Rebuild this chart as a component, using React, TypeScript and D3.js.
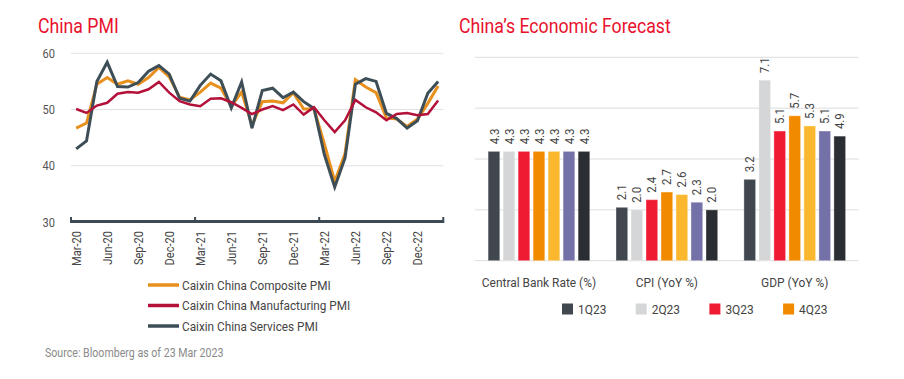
import React from "react";
import * as d3 from "d3";

const FONT = "Roboto, 'Liberation Sans', sans-serif";
const SX = 0.885; // condensed look

// ---------- Left chart data ----------
const months = [
  "Mar-20","Apr-20","May-20","Jun-20","Jul-20","Aug-20","Sep-20","Oct-20","Nov-20","Dec-20",
  "Jan-21","Feb-21","Mar-21","Apr-21","May-21","Jun-21","Jul-21","Aug-21","Sep-21","Oct-21","Nov-21","Dec-21",
  "Jan-22","Feb-22","Mar-22","Apr-22","May-22","Jun-22","Jul-22","Aug-22","Sep-22","Oct-22","Nov-22","Dec-22",
  "Jan-23","Feb-23",
];
const monthTickLabels = ["Mar-20","Jun-20","Sep-20","Dec-20","Mar-21","Jun-21","Sep-21","Dec-21","Mar-22","Jun-22","Sep-22","Dec-22"];
const compositePMI = [46.7,47.6,54.5,55.7,54.5,55.1,54.5,55.7,57.5,55.8,52.2,51.7,53.1,54.7,53.8,50.6,53.1,47.2,51.4,51.5,51.2,53.0,50.1,50.1,43.9,37.2,42.2,55.3,54.0,53.0,48.5,48.3,47.0,48.3,51.1,54.2];
const manufacturingPMI = [50.1,49.4,50.7,51.2,52.8,53.1,53.0,53.6,54.9,53.0,51.5,50.9,50.6,51.9,52.0,51.3,50.3,49.2,50.0,50.6,49.9,50.9,49.1,50.4,48.1,46.0,48.1,51.7,50.4,49.5,48.1,49.2,49.4,49.0,49.2,51.6];
const servicesPMI = [43.0,44.4,55.0,58.4,54.1,54.0,54.8,56.8,57.8,56.3,52.0,51.5,54.3,56.3,55.1,50.3,54.9,46.7,53.4,53.8,52.1,53.1,51.4,50.2,42.0,36.2,41.4,54.5,55.5,55.0,49.3,48.4,46.7,48.0,52.9,55.0];
const pmiTicks = [30, 40, 50, 60];
const lineSeries = [
  { name: "Caixin China Composite PMI", values: compositePMI, color: "#e8901e", width: 3 },
  { name: "Caixin China Services PMI", values: servicesPMI, color: "#3e4e57", width: 3 },
  { name: "Caixin China Manufacturing PMI", values: manufacturingPMI, color: "#b4113a", width: 2.5 },
];
const legendOrder = [0, 2, 1];

// ---------- Right chart data ----------
const categories = ["Central Bank Rate (%)", "CPI (YoY %)", "GDP (YoY %)"];
const periods = ["1Q23", "2Q23", "3Q23", "4Q23", "2023", "2024", "2025"];
const periodColors = ["#41474e", "#d4d6d8", "#ee1b33", "#f28a00", "#fbb82f", "#7471a8", "#2a2d31"];
const centralBankRate = [4.3, 4.3, 4.3, 4.3, 4.3, 4.3, 4.3];
const cpiYoY = [2.1, 2.0, 2.4, 2.7, 2.6, 2.3, 2.0];
const gdpYoY = [3.2, 7.1, 5.1, 5.7, 5.3, 5.1, 4.9];
const forecastValues = [centralBankRate, cpiYoY, gdpYoY];
const barGridTicks = [0, 2, 4, 6, 8];
const barLegendCount = 4;

type TxtProps = {
  x: number;
  y: number;
  rotate?: number;
  anchor?: "start" | "middle" | "end";
  dy?: string;
  size: number;
  fill: string;
  children: React.ReactNode;
};
function Txt({ x, y, rotate = 0, anchor = "start", dy, size, fill, children }: TxtProps) {
  return (
    <g transform={`translate(${x},${y}) rotate(${rotate}) scale(${SX},1)`}>
      <text x={0} y={0} dy={dy} textAnchor={anchor} fontSize={size} fill={fill}>
        {children}
      </text>
    </g>
  );
}

export default function App() {
  const xL = d3.scaleBand<string>().domain(months).range([71, 443.3]);
  const yL = d3.scaleLinear().domain([30, 60]).range([222, 53.3]);
  const line = d3
    .line<number>()
    .x((_, i) => (xL(months[i]) as number) + xL.bandwidth() / 2)
    .y((v) => yL(v));
  const yearTicks = [0, 12, 24].map((i) => xL(months[i]) as number).concat([443.3]);

  const x0 = d3.scaleBand<string>().domain(categories).range([475, 858.7]);
  const groupW = 101.7;
  const x1 = d3.scaleBand<string>().domain(periods).range([0, groupW]).paddingInner(0.22);
  const yR = d3.scaleLinear().domain([0, 8]).range([260.7, 57.3]);

  return (
    <svg width={904} height={379} style={{ position: "absolute", left: 0, top: 0, background: "#fff" }} fontFamily={FONT}>
      <Txt x={38} y={33} size={20} fill="#e8112d">China PMI</Txt>
      <Txt x={459} y={33} size={20} fill="#e8112d">China’s Economic Forecast</Txt>

      {pmiTicks.map((t) => (
        <g key={t}>
          {t > 30 && <line x1={71} x2={443.3} y1={yL(t)} y2={yL(t)} stroke="#e2e2e2" strokeWidth={1} />}
          <Txt x={55} y={yL(t) + 4.5} anchor="end" size={12.5} fill="#555">{t}</Txt>
        </g>
      ))}
      {lineSeries.map((s) => (
        <path key={s.name} d={line(s.values) || ""} fill="none" stroke={s.color} strokeWidth={s.width} strokeLinejoin="miter" />
      ))}
      <line x1={71} x2={443.3} y1={221.5} y2={221.5} stroke="#3e4a53" strokeWidth={3} />
      {yearTicks.map((x, i) => (
        <line key={i} x1={x} x2={x} y1={217} y2={223} stroke="#3e4a53" strokeWidth={2} />
      ))}
      {monthTickLabels.map((m) => {
        const x = (xL(m) as number) + xL.bandwidth() / 2;
        return (
          <Txt key={m} x={x} y={231} rotate={-90} anchor="end" dy="0.35em" size={12.5} fill="#444">
            {m}
          </Txt>
        );
      })}
      {legendOrder.map((idx, i) => {
        const s = lineSeries[idx];
        const y = 285 + i * 20.5;
        return (
          <g key={s.name}>
            <line x1={148} x2={179} y1={y} y2={y} stroke={s.color} strokeWidth={3.5} />
            <Txt x={182} y={y + 4.8} size={13.3} fill="#444">{s.name}</Txt>
          </g>
        );
      })}
      <Txt x={45} y={357} size={12} fill="#8a8a8a">Source: Bloomberg as of 23 Mar 2023</Txt>

      {barGridTicks.map((t) => (
        <line key={t} x1={475} x2={858.7} y1={yR(t)} y2={yR(t)} stroke="#dcdcdc" strokeWidth={1} />
      ))}
      {categories.map((c, ci) => {
        const gx = (x0(c) as number) + (x0.bandwidth() - groupW) / 2;
        return (
          <g key={c}>
            {periods.map((p, pi) => {
              const v = forecastValues[ci][pi];
              const bx = gx + (x1(p) as number);
              const by = yR(v);
              const cx = bx + x1.bandwidth() / 2;
              return (
                <g key={p}>
                  <rect x={bx} y={by} width={x1.bandwidth()} height={yR(0) - by} fill={periodColors[pi]} stroke="#fff" strokeOpacity={0.35} strokeWidth={1} />
                  <Txt x={cx} y={by - 7} rotate={-90} dy="0.35em" size={13} fill="#444">
                    {v.toFixed(1)}
                  </Txt>
                </g>
              );
            })}
            <Txt x={(x0(c) as number) + x0.bandwidth() / 2} y={287} anchor="middle" size={13.5} fill="#444">
              {c}
            </Txt>
          </g>
        );
      })}
      {periods.slice(0, barLegendCount).map((p, i) => {
        const lx = 562 + i * 73.7;
        return (
          <g key={p}>
            <rect x={lx} y={303.5} width={11} height={11} fill={periodColors[i]} />
            <Txt x={lx + 16} y={314} size={13.5} fill="#444">{p}</Txt>
          </g>
        );
      })}
    </svg>
  );
}
